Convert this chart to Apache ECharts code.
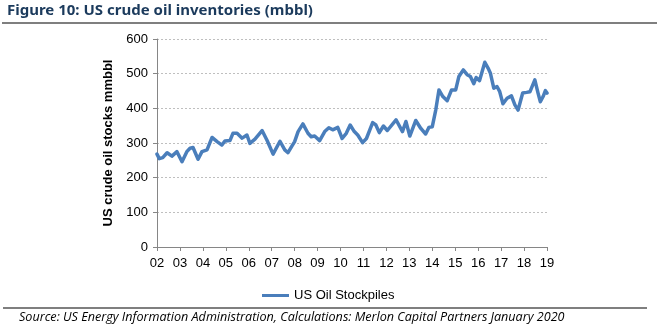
<!DOCTYPE html>
<html>
<head>
<meta charset="utf-8">
<script src="https://cdn.jsdelivr.net/npm/echarts@6/dist/echarts.min.js"></script>
<style>
  html, body { margin: 0; padding: 0; background: #fff; }
  #chart { width: 657px; height: 331px; }
</style>
</head>
<body>
<div id="chart"></div>
<script>
// Time in fractional years, stock level in million barrels
const years = [
  2002.00, 2002.10, 2002.25, 2002.44, 2002.65, 2002.87, 2003.09, 2003.30, 2003.44, 2003.57,
  2003.79, 2003.96, 2004.18, 2004.40, 2004.62, 2004.83, 2004.96, 2005.18, 2005.31, 2005.49,
  2005.71, 2005.92, 2006.05, 2006.27, 2006.58, 2006.80, 2007.06, 2007.36, 2007.57, 2007.71,
  2007.86, 2008.00, 2008.15, 2008.36, 2008.58, 2008.72, 2008.87, 2009.09, 2009.31, 2009.49,
  2009.66, 2009.88, 2010.07, 2010.25, 2010.42, 2010.60, 2010.75, 2010.96, 2011.13, 2011.40,
  2011.54, 2011.69, 2011.87, 2012.04, 2012.42, 2012.70, 2012.85, 2013.02, 2013.28, 2013.50,
  2013.71, 2013.85, 2014.00, 2014.15, 2014.29, 2014.46, 2014.65, 2014.84, 2015.02, 2015.16,
  2015.35, 2015.52, 2015.66, 2015.81, 2015.91, 2016.06, 2016.29, 2016.43, 2016.53, 2016.68,
  2016.82, 2016.94, 2017.08, 2017.26, 2017.45, 2017.60, 2017.74, 2017.94, 2018.11, 2018.26,
  2018.47, 2018.61, 2018.71, 2018.83, 2018.93, 2019.00
];
const stocks = [
  268, 255, 258, 272, 262, 275, 246, 275, 285, 287,
  253, 275, 280, 316, 304, 294, 306, 307, 328, 328,
  314, 323, 299, 311, 336, 307, 268, 305, 280, 272,
  289, 304, 333, 355, 328, 318, 320, 307, 333, 344,
  338, 345, 313, 328, 352, 333, 323, 301, 313, 359,
  352, 330, 349, 336, 367, 333, 362, 320, 365, 342,
  326, 345, 347, 395, 453, 434, 422, 453, 453, 492,
  511, 497, 492, 471, 489, 480, 533, 516, 502, 458,
  463, 448, 413, 429, 436, 410, 395, 444, 446, 448,
  482, 444, 419, 434, 451, 444
];
const yearLabels = ['02','03','04','05','06','07','08','09','10','11','12','13','14','15','16','17','18','19'];
const firstYear = 2002;
const seriesName = 'US Oil Stockpiles';

const chart = echarts.init(document.getElementById('chart'), null, { renderer: 'canvas' });

chart.setOption({
  animation: false,
  backgroundColor: '#ffffff',
  grid: { left: 157, right: 110, top: 39, bottom: 84, containLabel: false },
  legend: {
    data: [{ name: seriesName, icon: 'rect' }],
    left: 257, top: 284,
    itemWidth: 27, itemHeight: 3, itemGap: 2,
    textStyle: { fontFamily: 'Liberation Sans', fontSize: 13, color: '#000' }
  },
  xAxis: {
    type: 'value', min: 2002, max: 2019, interval: 1,
    axisLine: { show: true, lineStyle: { color: '#868686', width: 1 } },
    axisTick: { show: true, length: 4, lineStyle: { color: '#868686' } },
    splitLine: { show: false },
    axisLabel: {
      fontFamily: 'Liberation Sans', fontSize: 13, color: '#000', margin: 10,
      formatter: v => yearLabels[Math.round(v - firstYear)] || ''
    }
  },
  yAxis: {
    type: 'value', min: 0, max: 600, interval: 100,
    name: 'US crude oil stocks mmbbl',
    nameLocation: 'middle', nameGap: 33, nameRotate: 90,
    nameTextStyle: { fontFamily: 'Liberation Sans', fontWeight: 'bold', fontSize: 13, color: '#000' },
    axisLine: { show: true, lineStyle: { color: '#868686', width: 1 } },
    axisTick: { show: true, length: 4, lineStyle: { color: '#868686' } },
    splitLine: { show: true, lineStyle: { color: '#bfbfbf', type: [2, 2], width: 1 } },
    axisLabel: { fontFamily: 'Liberation Sans', fontSize: 13, color: '#000', margin: 9 }
  },
  series: [{
    name: seriesName,
    type: 'line',
    data: years.map((y, i) => [y, stocks[i]]),
    showSymbol: false,
    symbol: 'none',
    lineStyle: { color: '#4a7ebb', width: 3.5, join: 'round', cap: 'round' },
    itemStyle: { color: '#4a7ebb' }
  }],
  graphic: [
    {
      type: 'text', left: 7, top: 3,
      style: {
        text: 'Figure 10: US crude oil inventories (mbbl)',
        font: 'bold 15px "Noto Sans"', fill: '#1b3a5c'
      }
    },
    { type: 'line', shape: { x1: 2, y1: 23, x2: 657, y2: 23 }, style: { stroke: '#000', lineWidth: 1.2 } },
    { type: 'line', shape: { x1: 3, y1: 308, x2: 647, y2: 308 }, style: { stroke: '#000', lineWidth: 1.2 } },
    {
      type: 'text', left: 19, top: 311,
      style: {
        text: 'Source: US Energy Information Administration, Calculations: Merlon Capital Partners January 2020',
        font: 'italic 12.6px "Open Sans"', fill: '#000'
      }
    }
  ]
});
</script>
</body>
</html>
